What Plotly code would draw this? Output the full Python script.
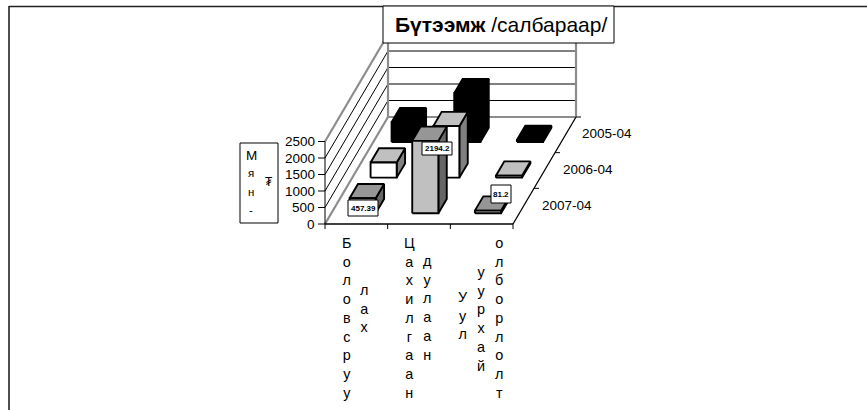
import plotly.graph_objects as go

# ---- data ----
cat_columns = [["Боловсруу", "лах"], ["Цахилгаан", "дулаан"], ["Уул", "уурхай", "олборлолт"]]
periods = ["2007-04", "2006-04", "2005-04"]
values_2007 = [457.39, 2194.2, 81.2]
values_2006 = [460, 1560, 60]
values_2005 = [600, 1480, 60]
value_ticks = [0, 500, 1000, 1500, 2000, 2500]
title_bold = "Бүтээмж"
title_rest = " /салбараар/"
axis_title_1 = "Мян-"
axis_title_2 = "₮"

# ---- projection of (category, depth, value) onto the plot ----
X0, Y0 = 325.0, 224.0
WX, DX, DY = 188.0, 63.0, 107.0
HZ = 82.5 / 2500.0
BAR_U = (1 / 3) / 2.4
BAR_V = (1 / 3) / 2.5


def pr(u, v, z=0.0):
    return X0 + WX * u + DX * v, Y0 - DY * v - HZ * z


fig = go.Figure()


def poly(points, fill, line="black", lw=1.9):
    xs, ys = zip(*[pr(*p) for p in points])
    fig.add_trace(go.Scatter(
        x=list(xs) + [xs[0]], y=list(ys) + [ys[0]], mode="lines", fill="toself",
        fillcolor=fill, line=dict(color=line, width=lw), hoverinfo="skip", showlegend=False))


def seg(a, b, color="black", lw=1.0):
    xs, ys = zip(pr(*a), pr(*b))
    fig.add_trace(go.Scatter(x=list(xs), y=list(ys), mode="lines",
                             line=dict(color=color, width=lw), hoverinfo="skip", showlegend=False))


# walls and floor
TOP = value_ticks[-1]
for t in value_ticks[1:-1]:
    seg((0, 0, t), (0, 1, t))
    seg((0, 1, t), (1, 1, t))
GR = "#8c8c8c"
seg((0, 0, 0), (0, 1, 0), GR, 2.2)
seg((0, 0, TOP), (0, 1, TOP), GR, 2.2)
seg((0, 1, 0), (0, 1, TOP), GR, 2.2)
seg((0, 1, 0), (1, 1, 0), GR, 2.2)
seg((1, 1, 0), (1, 1, TOP), GR, 2.2)
seg((0, 1, TOP), (1, 1, TOP), GR, 1.0)
seg((0, 0, 0), (1, 0, 0), "black", 1.3)
seg((1, 0, 0), (1, 1, 0), "black", 1.3)

# bars, far row first
rows = [
    (2, values_2005, "black", "black", "black"),
    (1, values_2006, "white", "#c0c0c0", "#808080"),
    (0, values_2007, "#c0c0c0", "#969696", "#666666"),
]
for r, vals, front, top, side in rows:
    v0 = (r + 0.5) / 3 - BAR_V / 2
    v1 = v0 + BAR_V
    for c, val in enumerate(vals):
        u0 = (c + 0.5) / 3 - BAR_U / 2
        u1 = u0 + BAR_U
        poly([(u1, v0, 0), (u1, v1, 0), (u1, v1, val), (u1, v0, val)], side)
        poly([(u0, v0, val), (u1, v0, val), (u1, v1, val), (u0, v1, val)], top)
        poly([(u0, v0, 0), (u1, v0, 0), (u1, v0, val), (u0, v0, val)], front)

fig.update_xaxes(range=[0, 867], visible=False, fixedrange=True)
fig.update_yaxes(range=[410, 0], visible=False, fixedrange=True)

shapes = []
anns = []
FONT = "Liberation Sans, Arial, sans-serif"


def line(x0, y0, x1, y1, color="black", w=1.0):
    shapes.append(dict(type="line", xref="x", yref="y", x0=x0, y0=y0, x1=x1, y1=y1,
                       line=dict(color=color, width=w), layer="above"))


def text(x, y, s, size=12, xa="center", ya="middle", **kw):
    anns.append(dict(x=x, y=y, xref="x", yref="y", text=s, showarrow=False, xanchor=xa, yanchor=ya,
                     font=dict(family=FONT, size=size, color="black"), **kw))


# outer frame
line(9, 6.5, 867, 6.5, "#222222", 1.6)
line(9, 6, 9, 410, "#222222", 1.6)

# value axis
for t in value_ticks:
    x, y = pr(0, 0, t)
    line(x - 7, y, x, y)
    text(x - 8, y, str(t), 13.5, xa="right")
line(*pr(0, 0, 0), *pr(0, 0, TOP))

# category ticks
for i in range(4):
    x, y = pr(i / 3, 0, 0)
    line(x, y, x, y + 5)

# depth ticks and labels
label_pos = [(567, 205), (588, 169), (607, 133)]
for i, p in enumerate(periods):
    x, y = pr(1, (i + 1) / 3, 0)
    line(x, y, x + 5, y)
    text(label_pos[i][0], label_pos[i][1], p, 13.5)

# stacked category labels
col_x = [[346, 364], [409, 427], [463, 481, 499]]
col_top = [[233, 280], [233, 251], [287, 262, 233]]
for words, xs, tops in zip(cat_columns, col_x, col_top):
    for w, x, t in zip(words, xs, tops):
        text(x, t, "<br>".join(w), 14.4, ya="top")

# value-axis title box
shapes.append(dict(type="rect", xref="x", yref="y", x0=240, x1=278, y0=143, y1=223,
                   line=dict(color="black", width=1), fillcolor="white", layer="above"))
for i, ch in enumerate(axis_title_1):
    text(251, 155 + i * 18.4, ch, 13.5 if i == 0 else 11.5)
text(269, 182, axis_title_2, 12)

# title box
shapes.append(dict(type="rect", xref="x", yref="y", x0=383, x1=614, y0=6, y1=43,
                   line=dict(color="black", width=1), fillcolor="white", layer="above"))
text(500.5, 24.5, f"<b>{title_bold}</b>{title_rest}", 21)

# data labels
def dlabel(cx, cy, w, h, s):
    shapes.append(dict(type="rect", xref="x", yref="y", x0=cx - w / 2, x1=cx + w / 2, y0=cy - h / 2, y1=cy + h / 2,
                       line=dict(color="black", width=1), fillcolor="white", layer="above"))
    text(cx, cy, f"<b>{s}</b>", 8)


dlabel(363, 208, 30, 16, values_2007[0])
dlabel(437, 148.5, 30, 13, values_2007[1])
dlabel(501, 194, 20, 18, values_2007[2])

fig.update_layout(width=867, height=410, margin=dict(l=0, r=0, t=0, b=0),
                  paper_bgcolor="white", plot_bgcolor="white", showlegend=False,
                  shapes=shapes, annotations=anns)
fig.write_html("out.html", config={"displayModeBar": False},
               post_script="document.body.style.margin='0';document.body.style.overflow='hidden';")
